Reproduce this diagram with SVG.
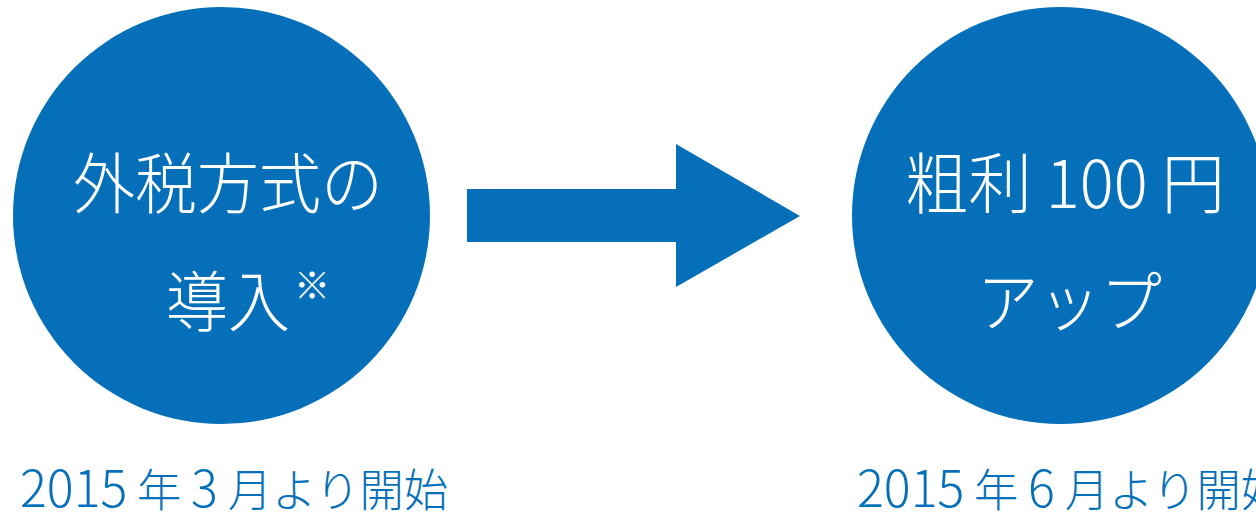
<svg xmlns="http://www.w3.org/2000/svg" width="1256" height="512" viewBox="0 0 1256 512">
<style>
.c{fill:#0570b9}
.w{fill:#ffffff;font-family:"Noto Sans CJK JP","Noto Sans",sans-serif;font-weight:300}
.b{fill:#0570b9;font-family:"Noto Sans CJK JP","Noto Sans",sans-serif;font-weight:300;font-size:45px}
.d{font-size:51px}
</style>
<rect width="1256" height="512" fill="#ffffff"/>
<g id="node-left">
<circle class="c" cx="221.5" cy="215.5" r="208.5"/>
<text class="w" x="73" y="208" font-size="66" textLength="310" lengthAdjust="spacingAndGlyphs">外税方式の</text>
<text class="w" x="166" y="326" font-size="66" textLength="124" lengthAdjust="spacingAndGlyphs">導入</text>
<text class="w" x="294" y="299" font-size="36">※</text>
</g>
<g id="node-right">
<circle class="c" cx="1060.5" cy="215.5" r="208.5"/>
<text class="w" x="905" y="208" font-size="66" textLength="320" lengthAdjust="spacingAndGlyphs">粗利 100 円</text>
<text class="w" x="977" y="326" font-size="66" textLength="185" lengthAdjust="spacingAndGlyphs">アップ</text>
</g>
<g id="connectors">
<polygon class="c" points="467,189 676,189 676,144 800,216 676,287 676,242 467,242"/>
</g>
<g id="label-left">
<text class="b" x="20" y="507" textLength="428" lengthAdjust="spacingAndGlyphs"><tspan class="d">2015</tspan> 年 <tspan class="d">3</tspan> 月より開始</text>
</g>
<g id="label-right">
<text class="b" x="857" y="507" textLength="428" lengthAdjust="spacingAndGlyphs"><tspan class="d">2015</tspan> 年 <tspan class="d">6</tspan> 月より開始</text>
</g>
</svg>
